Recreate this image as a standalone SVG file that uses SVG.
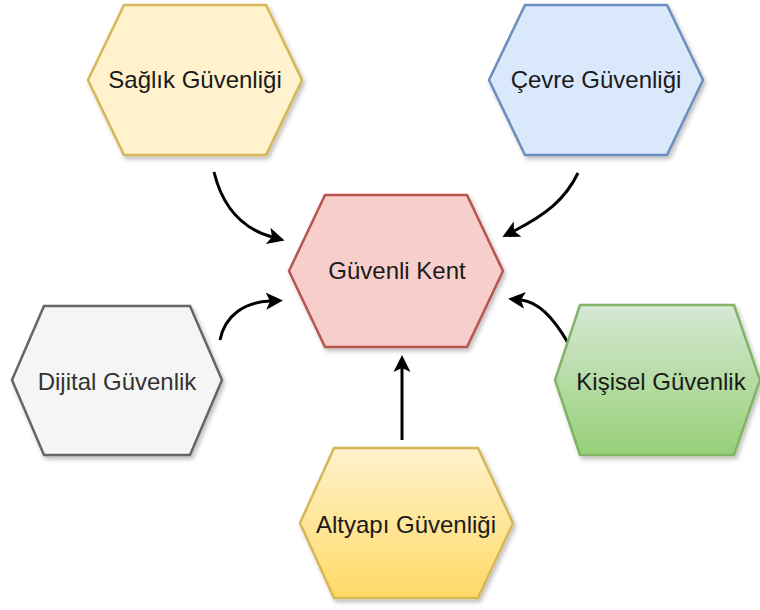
<svg xmlns="http://www.w3.org/2000/svg" width="760" height="610" viewBox="0 0 760 610">
<defs>
<style>
.hex{stroke-width:2.5;stroke-linejoin:miter;filter:url(#sh)}
.lbl{font-family:"Liberation Sans",Arial,sans-serif;font-size:24px;fill:#1a1a1a;text-anchor:middle}
.con{fill:none;stroke:#000;stroke-width:3;marker-end:url(#arr)}
</style>
<filter id="sh" x="-10%" y="-10%" width="130%" height="130%">
<feDropShadow dx="2" dy="3" stdDeviation="2.2" flood-color="#000" flood-opacity="0.25"/>
</filter>
<linearGradient id="gGreen" x1="0" y1="0" x2="0" y2="1">
<stop offset="0" stop-color="#d5e8d4"/>
<stop offset="1" stop-color="#97d077"/>
</linearGradient>
<linearGradient id="gYellow" x1="0" y1="0" x2="0" y2="1">
<stop offset="0" stop-color="#fff2cc"/>
<stop offset="1" stop-color="#ffd966"/>
</linearGradient>
<marker id="arr" markerUnits="userSpaceOnUse" markerWidth="20" markerHeight="20" viewBox="0 -10 20 20" refX="4" refY="0" orient="auto">
<path d="M17,0 L0,-8.5 L4,0 L0,8.5 Z" fill="#000"/>
</marker>
</defs>
<rect width="760" height="610" fill="#ffffff"/>
<g id="connectors">
<path class="con" d="M214,172 C222,205 240,228 272,237"/>
<path class="con" d="M578,173 C565,200 545,215 514,231"/>
<path class="con" d="M220,340 C225,315 245,302 270,301"/>
<path class="con" d="M568,343 C555,320 540,302 521,300"/>
<path class="con" d="M402,440 L402,368"/>
</g>
<g id="saglik">
<polygon class="hex" points="124,5 266,5 302,80 266,155 124,155 88,80" fill="#fff2cc" stroke="#d6b656"/>
<text class="lbl" x="195" y="88">Sağlık Güvenliği</text>
</g>
<g id="cevre">
<polygon class="hex" points="525,5 667,5 703,80 667,155 525,155 489,80" fill="#dae8fc" stroke="#6c8ebf"/>
<text class="lbl" x="596" y="88">Çevre Güvenliği</text>
</g>
<g id="guvenli-kent">
<polygon class="hex" points="325,195 467,195 503,271 467,347 325,347 289,271" fill="#f8cecc" stroke="#b85450"/>
<text class="lbl" x="397" y="279">Güvenli Kent</text>
</g>
<g id="dijital">
<polygon class="hex" points="44,306 190,306 222,380 190,455 44,455 12,380" fill="#f5f5f5" stroke="#666666"/>
<text class="lbl" x="117" y="390" style="fill:#333333">Dijital Güvenlik</text>
</g>
<g id="kisisel">
<polygon class="hex" points="580,305 734,305 760,380 734,455 580,455 555,380" fill="url(#gGreen)" stroke="#82b366"/>
<text class="lbl" x="661" y="390">Kişisel Güvenlik</text>
</g>
<g id="altyapi">
<polygon class="hex" points="334,448 478,448 513,523 478,598 334,598 300,523" fill="url(#gYellow)" stroke="#d6b656"/>
<text class="lbl" x="406" y="533">Altyapı Güvenliği</text>
</g>
</svg>
